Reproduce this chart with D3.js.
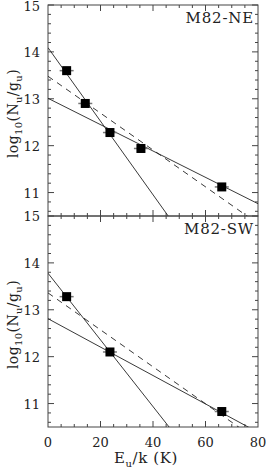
<!DOCTYPE html>
<html><head><meta charset="utf-8">
<script src="https://cdn.jsdelivr.net/npm/d3@7"></script>
<style>body{margin:0;background:#fff}svg{display:block}text{font-family:"DejaVu Serif",serif;fill:#222}</style>
</head><body><svg id="c" width="266" height="468"></svg>
<script>
// Data
const panelNames = ["M82-NE", "M82-SW"];
const neE = [7.1, 14.2, 23.6, 35.4, 66.2];
const neLogN = [13.6, 12.9, 12.28, 11.94, 11.12];
const swE = [7.1, 23.6, 66.2];
const swLogN = [13.28, 12.1, 10.83];
// fitted lines: [intercept, slope]
const neSteep = [14.09, -0.0784];
const neShallow = [13.01, -0.0281];
const neDashed = [13.48, -0.0393];
const swSteep = [13.78, -0.0711];
const swShallow = [12.81, -0.0303];
const swDashed = [13.36, -0.0394];
const xTicks = [0, 20, 40, 60, 80];
const yTicks = [11, 12, 13, 14, 15];

const svg = d3.select("#c");
const L = 48, R = 258;
const panels = [
  {name: panelNames[0], E: neE, N: neLogN, lines: [neSteep, neShallow, neDashed], top: 5, bot: 216},
  {name: panelNames[1], E: swE, N: swLogN, lines: [swSteep, swShallow, swDashed], top: 216, bot: 427}
];
const x = d3.scaleLinear().domain([0, 80]).range([L, R]);
const axisCol = "#444";

panels.forEach((p, pi) => {
  const y = d3.scaleLinear().domain([10.5, 15]).range([p.bot, p.top]);
  const g = svg.append("g");
  const clipId = "clip" + pi;
  svg.append("clipPath").attr("id", clipId).append("rect")
    .attr("x", L).attr("y", p.top).attr("width", R - L).attr("height", p.bot - p.top);

  // ticks
  const xMinor = d3.range(0, 81, 5);
  const yMinor = d3.range(10.6, 15.0001, 0.2);
  const tk = g.append("g").attr("stroke", axisCol).attr("stroke-width", 1);
  xMinor.forEach(v => {
    const len = v % 20 === 0 ? 6 : 3;
    if (v === 0 || v === 80) return;
    tk.append("line").attr("x1", x(v)).attr("x2", x(v)).attr("y1", p.bot).attr("y2", p.bot - len);
    tk.append("line").attr("x1", x(v)).attr("x2", x(v)).attr("y1", p.top).attr("y2", p.top + len);
  });
  yMinor.forEach(v => {
    const r = Math.round(v * 10) / 10;
    const major = Math.abs(r - Math.round(r)) < 1e-6;
    const len = major ? 6 : 3;
    tk.append("line").attr("x1", L).attr("x2", L + len).attr("y1", y(r)).attr("y2", y(r));
    tk.append("line").attr("x1", R).attr("x2", R - len).attr("y1", y(r)).attr("y2", y(r));
  });

  // frame
  g.append("rect").attr("x", L).attr("y", p.top).attr("width", R - L).attr("height", p.bot - p.top)
    .attr("fill", "none").attr("stroke", axisCol).attr("stroke-width", 1);

  // y tick labels
  yTicks.forEach(v => {
    const yy = Math.max(y(v) + 5, 11);
    g.append("text").attr("x", L - 8).attr("y", yy).attr("text-anchor", "end")
      .attr("font-size", 13).text(v);
  });

  // lines
  const lg = g.append("g").attr("clip-path", `url(#${clipId})`).attr("stroke", "#222").attr("stroke-width", 0.9).attr("fill", "none");
  p.lines.forEach((ln, i) => {
    lg.append("line").attr("x1", x(0)).attr("y1", y(ln[0]))
      .attr("x2", x(80)).attr("y2", y(ln[0] + ln[1] * 80))
      .attr("stroke-dasharray", i === 2 ? "6,5" : null);
  });

  // points with small horizontal error bars
  p.E.forEach((e, i) => {
    g.append("line").attr("x1", x(e) - 7).attr("x2", x(e) + 7).attr("y1", y(p.N[i])).attr("y2", y(p.N[i]))
      .attr("stroke", "#777").attr("stroke-width", 1.5);
    g.append("rect").attr("x", x(e) - 4.5).attr("y", y(p.N[i]) - 4.5).attr("width", 9).attr("height", 9).attr("fill", "#000");
  });

  // panel label
  g.append("text").attr("x", R - 4).attr("y", p.top + 18).attr("text-anchor", "end")
    .attr("font-size", 15).attr("letter-spacing", 0.8).text(p.name);

  // y axis label
  const yl = g.append("text").attr("transform", `translate(18,${(p.top + p.bot) / 2 + 3}) rotate(-90)`)
    .attr("text-anchor", "middle").attr("font-size", 14).attr("letter-spacing", 0.4);
  yl.append("tspan").text("log");
  yl.append("tspan").attr("font-size", 10).attr("dy", 4).text("10");
  yl.append("tspan").attr("dy", -4).text("(N");
  yl.append("tspan").attr("font-size", 10).attr("dy", 4).text("u");
  yl.append("tspan").attr("dy", -4).text("/g");
  yl.append("tspan").attr("font-size", 10).attr("dy", 4).text("u");
  yl.append("tspan").attr("dy", -4).text(")");
});

// x tick labels
xTicks.forEach(v => {
  svg.append("text").attr("x", x(v)).attr("y", 447).attr("text-anchor", "middle").attr("font-size", 13).text(v);
});
const xl = svg.append("text").attr("x", 146).attr("y", 463).attr("text-anchor", "middle").attr("font-size", 15).attr("letter-spacing", 0.6);
xl.append("tspan").text("E");
xl.append("tspan").attr("font-size", 10).attr("dy", 4).text("u");
xl.append("tspan").attr("dy", -4).text("/k (K)");
</script></body></html>
